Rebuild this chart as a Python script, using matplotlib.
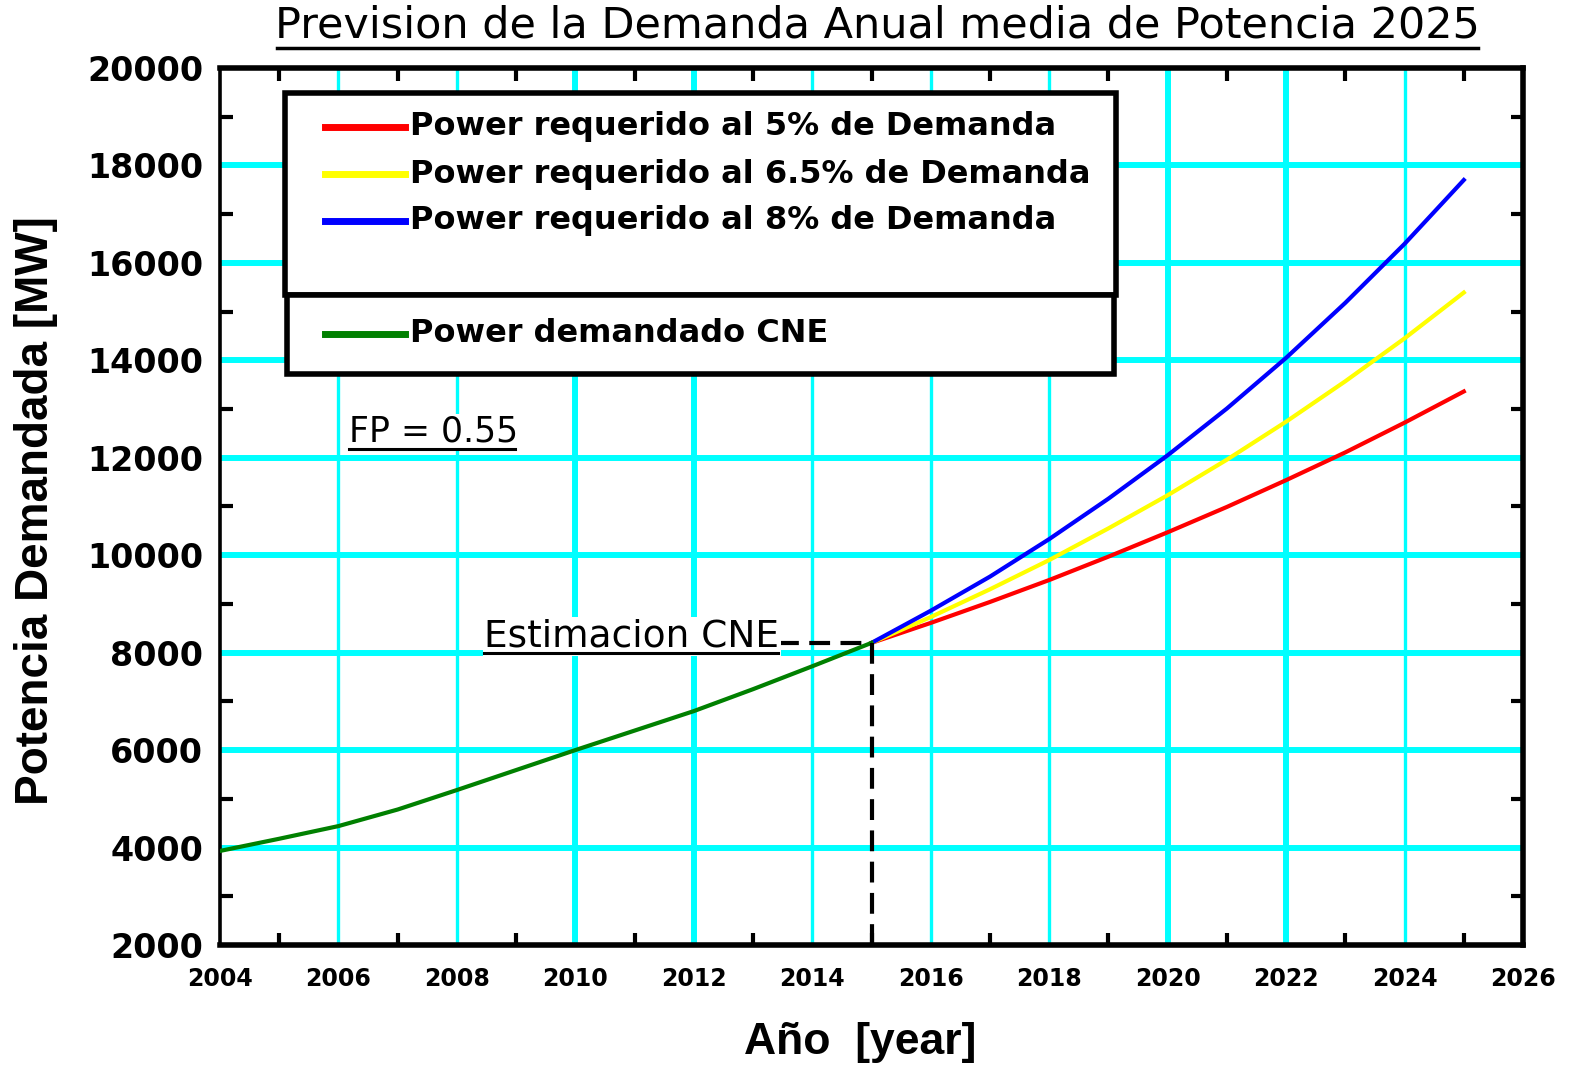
import numpy as np
import matplotlib
matplotlib.use('Agg')
import matplotlib.pyplot as plt
from matplotlib.patches import Rectangle
from matplotlib.lines import Line2D

# datos
anios_cne = [2004, 2005, 2006, 2007, 2008, 2009, 2010, 2011, 2012, 2013, 2014, 2015]
pot_cne = [3930, 4180, 4440, 4780, 5180, 5590, 6000, 6400, 6800, 7250, 7720, 8200]

anios_prev = [2015, 2016, 2017, 2018, 2019, 2020, 2021, 2022, 2023, 2024, 2025]
pot_5 = [8200, 8610, 9040, 9490, 9970, 10470, 10990, 11540, 12110, 12720, 13360]
pot_65 = [8200, 8730, 9300, 9900, 10550, 11230, 11960, 12740, 13570, 14450, 15390]
pot_8 = [8200, 8860, 9560, 10330, 11160, 12050, 13010, 14050, 15180, 16390, 17700]

etiquetas = ["Power requerido al 5% de Demanda",
             "Power requerido al 6.5% de Demanda",
             "Power requerido al 8% de Demanda"]
colores = ['#FF0000', '#FFFF00', '#0000FF']
etiqueta_cne = "Power demandado CNE"

anio_est = 2015
pot_est = 8200

CYAN = '#00FFFF'

fig = plt.figure(figsize=(15.69, 10.65), dpi=100)
ax = fig.add_axes([0.1402, 0.1127, 0.8305, 0.8235])
ax.set_xlim(2004, 2026)
ax.set_ylim(2000, 20000)

# rejilla cyan
for yv in range(4000, 20000, 2000):
    ax.axhline(yv, color=CYAN, lw=4.3, zorder=0)
anchos_v = {2006: 2.4, 2008: 2.4, 2010: 4.3, 2012: 4.3, 2014: 2.4,
            2016: 2.4, 2018: 2.4, 2020: 4.3, 2022: 4.3, 2024: 2.4}
for xv, w in anchos_v.items():
    ax.axvline(xv, color=CYAN, lw=w, zorder=0)

# series
ax.plot(anios_prev, pot_5, color=colores[0], lw=3, zorder=3)
ax.plot(anios_prev, pot_65, color=colores[1], lw=3, zorder=3)
ax.plot(anios_prev, pot_8, color=colores[2], lw=3, zorder=3)
ax.plot(anios_cne, pot_cne, color='#008000', lw=3, zorder=4)

# lineas de estimacion
ax.plot([anio_est, anio_est], [2000, pot_est], color='black', lw=3,
        ls=(0, (5, 2.5)), zorder=5, clip_on=False)
ax.plot([2013.42, anio_est], [pot_est, pot_est], color='black', lw=3,
        ls=(0, (5, 2.5)), zorder=5)

# ticks
ax.set_xticks(range(2004, 2027, 2))
ax.set_yticks(range(2000, 20001, 2000))
ax.set_xticks(range(2005, 2026, 2), minor=True)
ax.set_yticks(range(3000, 20000, 2000), minor=True)
ax.tick_params(which='major', length=0, pad=12)
ax.tick_params(which='minor', direction='in', length=9, width=3, color='black',
               top=True, right=True)
for lab in ax.get_yticklabels():
    lab.set_fontfamily('DejaVu Sans')
    lab.set_fontweight('bold')
    lab.set_fontsize(24)
for lab in ax.get_xticklabels():
    lab.set_fontfamily('DejaVu Sans')
    lab.set_fontweight('bold')
    lab.set_fontsize(17)
ax.tick_params(axis='x', which='major', pad=16)

for s in ['top', 'bottom', 'right']:
    ax.spines[s].set_linewidth(4)
ax.spines['left'].set_linewidth(2.6)

# etiquetas de ejes
ax.set_xlabel("Año  [year]", fontfamily='Liberation Sans', fontweight='bold', fontsize=32)
ax.xaxis.set_label_coords(0.491, -0.088)
ax.set_ylabel("Potencia Demandada [MW]", fontfamily='Liberation Sans', fontweight='bold',
              fontsize=33)
ax.yaxis.set_label_coords(-0.124, 0.495)

# titulo subrayado
fig.text(877 / 1569, 1 - 26 / 1065, "Prevision de la Demanda Anual media de Potencia 2025",
         ha='center', va='center', fontfamily='DejaVu Sans', fontsize=31)
fig.add_artist(Line2D([277 / 1569, 1478 / 1569], [1 - 48 / 1065, 1 - 48 / 1065],
                      color='black', lw=2.5, transform=fig.transFigure))

# leyenda (dos cajas)
caja1 = Rectangle((0.0499, 0.741), 0.688 - 0.0499, 0.9715 - 0.741, transform=ax.transAxes,
                  facecolor='white', edgecolor='black', lw=4, zorder=6)
caja2 = Rectangle((0.0514, 0.651), 0.686 - 0.0514, 0.741 - 0.651, transform=ax.transAxes,
                  facecolor='white', edgecolor='black', lw=4, zorder=6)
ax.add_patch(caja1)
ax.add_patch(caja2)
filas = [0.9327, 0.879, 0.8255]
for yy, col, txt in zip(filas, colores, etiquetas):
    ax.plot([0.0806, 0.142], [yy, yy], color=col, lw=5, transform=ax.transAxes, zorder=7)
    ax.text(0.1458, yy, txt, transform=ax.transAxes, ha='left', va='center',
            fontfamily='DejaVu Sans', fontweight='bold', fontsize=23, zorder=7)
ax.plot([0.0806, 0.142], [0.6967, 0.6967], color='#008000', lw=5, transform=ax.transAxes, zorder=7)
ax.text(0.1458, 0.6967, etiqueta_cne, transform=ax.transAxes, ha='left', va='center',
        fontfamily='DejaVu Sans', fontweight='bold', fontsize=23, zorder=7)

# anotaciones subrayadas
ax.text(2006.18, 12530, "FP = 0.55", ha='left', va='center', fontfamily='DejaVu Sans',
        fontsize=25, zorder=6, bbox=dict(facecolor='white', edgecolor='none', pad=1))
ax.plot([2006.18, 2008.98], [12180, 12180], color='black', lw=2.2, zorder=7)
ax.text(2008.46, 8322, "Estimacion CNE", ha='left', va='center', fontfamily='DejaVu Sans',
        fontsize=27, zorder=6, bbox=dict(facecolor='white', edgecolor='none', pad=1))
ax.plot([2008.46, 2013.42], [7993, 7993], color='black', lw=2.2, zorder=7)

fig.savefig('out.png', dpi=100)
